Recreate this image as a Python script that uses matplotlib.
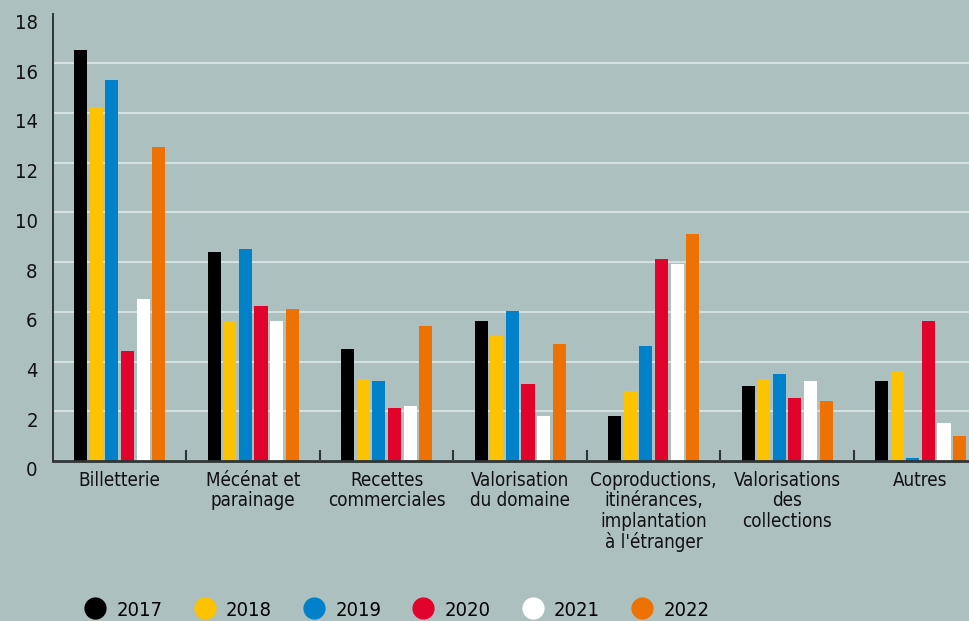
import matplotlib
matplotlib.use("Agg")
import matplotlib.pyplot as plt
from matplotlib.lines import Line2D
from matplotlib.transforms import ScaledTranslation
import numpy as np

plt.rcParams['font.family'] = ['DejaVu Sans']
plt.rcParams['font.stretch'] = 'condensed'

categories = [
    "Billetterie",
    "Mécénat et\nparainage",
    "Recettes\ncommerciales",
    "Valorisation\ndu domaine",
    "Coproductions,\nitinérances,\nimplantation\nà l'étranger",
    "Valorisations\ndes\ncollections",
    "Autres",
]
years = ["2017", "2018", "2019", "2020", "2021", "2022"]
values = {
    "2017": [16.55, 8.42, 4.51, 5.64, 1.81, 3.02, 3.22],
    "2018": [14.23, 5.64, 3.29, 5.03, 2.81, 3.29, 3.62],
    "2019": [15.34, 8.54, 3.22, 6.04, 4.63, 3.50, 0.12],
    "2020": [4.43, 6.24, 2.13, 3.10, 8.14, 2.54, 5.64],
    "2021": [6.52, 5.64, 2.21, 1.81, 7.93, 3.22, 1.53],
    "2022": [12.65, 6.12, 5.44, 4.71, 9.14, 2.42, 1.01],
}
colors = ["#000000", "#fdc300", "#0081c9", "#e2032d", "#ffffff", "#ee7203"]
yticks = list(range(0, 19, 2))

bg = "#acc0bf"
axis_col = "#2f3536"

fig = plt.figure(figsize=(9.70, 6.21), dpi=100, facecolor=bg)
ax = fig.add_axes([53 / 970, 1 - 461 / 621, 1 - 53 / 970, (461 - 13.5) / 621])
ax.set_facecolor(bg)

x = np.arange(len(categories))
step = 0.117
width = 0.098
for i, (yr, col) in enumerate(zip(years, colors)):
    ax.bar(x + (i - 2.5) * step, values[yr], width=width, color=col,
           linewidth=0, zorder=3)

ax.set_xlim(-0.5, 6.37)
ax.set_ylim(0, 18)

# horizontal grid
ax.set_yticks(yticks)
ax.yaxis.grid(True, color="#d6e1e0", linewidth=1.4, zorder=1)
ax.get_ygridlines()[-1].set_visible(False)
ax.tick_params(axis="y", length=0, labelsize=14.5, pad=11, colors="#111111")
for lab in ax.get_yticklabels():
    lab.set_transform(lab.get_transform() + ScaledTranslation(0, -8 / 100, fig.dpi_scale_trans))
ax.set_yticks([18], minor=True)
ax.tick_params(axis="y", which="minor", direction="in", length=10,
               width=1.2, color=axis_col)

# category labels and group separators
ax.set_xticks(x)
ax.set_xticklabels(categories, fontsize=13.5, linespacing=1.1)
ax.tick_params(axis="x", length=0, pad=7, colors="#111111")
ax.set_xticks(np.arange(0.5, 6.5, 1), minor=True)
ax.tick_params(axis="x", which="minor", direction="in", length=8,
               width=1.5, color=axis_col)

for s in ("top", "right"):
    ax.spines[s].set_visible(False)
ax.spines["left"].set_color(axis_col)
ax.spines["left"].set_linewidth(1.4)
ax.spines["bottom"].set_color(axis_col)
ax.spines["bottom"].set_linewidth(2)
ax.spines["bottom"].set_zorder(4)

handles = [Line2D([], [], marker="o", linestyle="none", markersize=16,
                  markerfacecolor=c, markeredgewidth=0) for c in colors]
fig.legend(handles, years, loc="center left", bbox_to_anchor=(77 / 970, 1 - 610 / 621),
           ncol=6, frameon=False, fontsize=14.5, handlelength=1.0,
           handletextpad=0.55, columnspacing=1.6, borderaxespad=0)

fig.savefig("out.png", dpi=100, facecolor=bg)
